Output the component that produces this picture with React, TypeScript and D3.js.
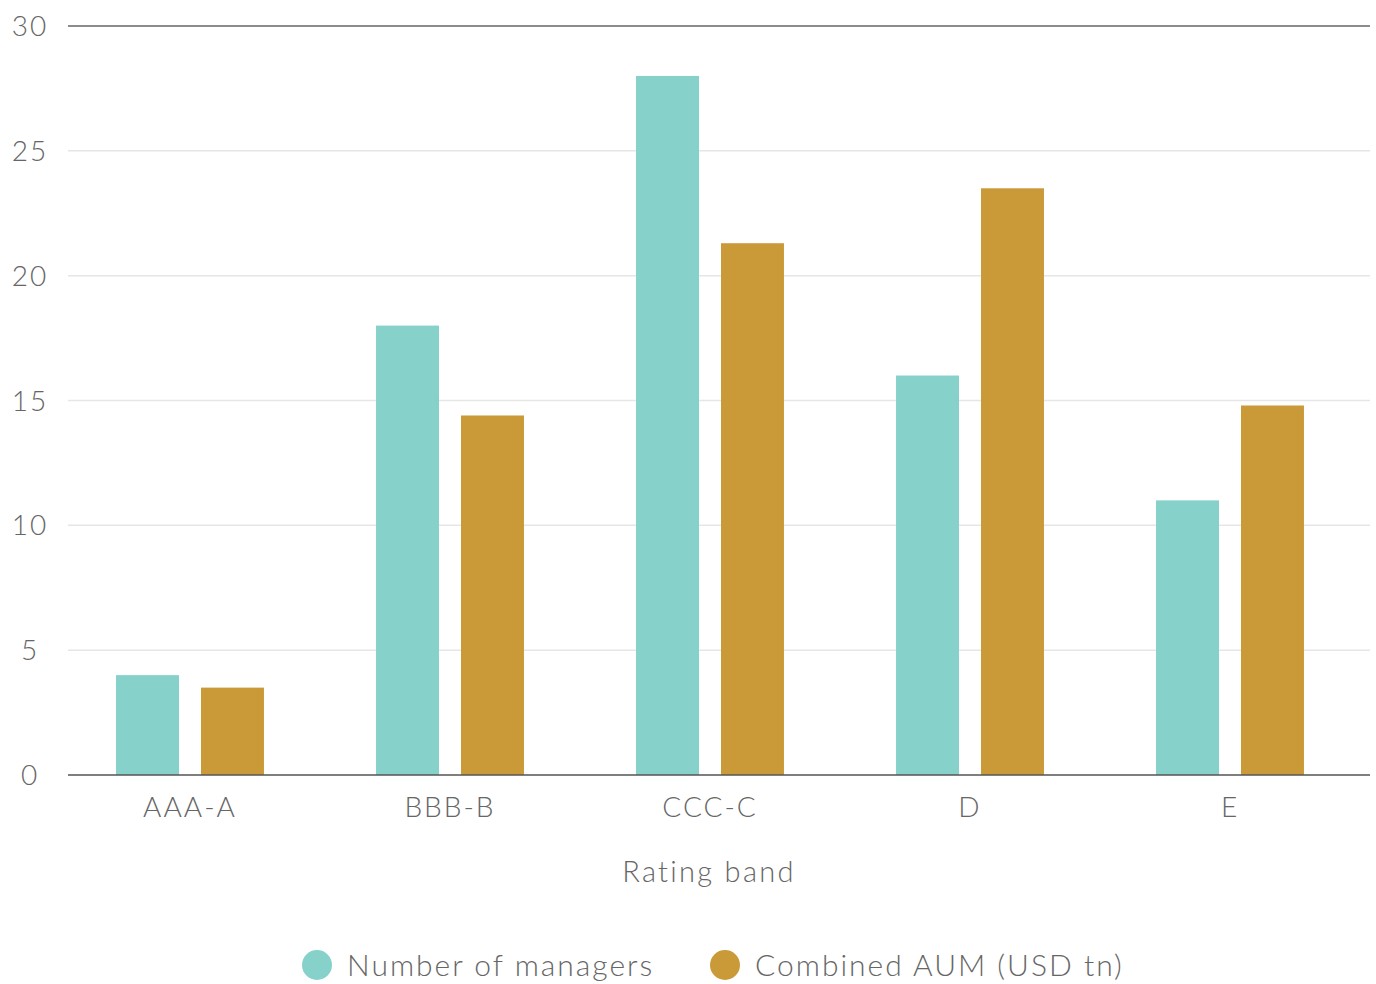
import { useEffect, useRef } from "react";
import * as d3 from "d3";

const categories = ["AAA-A", "BBB-B", "CCC-C", "D", "E"];
const managers = [4, 18, 28, 16, 11];
const aum = [3.5, 14.4, 21.3, 23.5, 14.8];
const yTicks = [0, 5, 10, 15, 20, 25, 30];
const seriesNames = ["Number of managers", "Combined AUM (USD tn)"];
const colors = ["#86d1ca", "#cb9a38"];

export default function App() {
  const ref = useRef<SVGSVGElement>(null);

  useEffect(() => {
    document.body.style.margin = "0";
    const svg = d3.select(ref.current);
    const width = 1376;
    const height = 984;
    const margin = { top: 26, right: 6, bottom: 209, left: 68 };
    const font = "Lato, 'Open Sans', sans-serif";
    const textColor = "#666";

    svg.selectAll("*").remove();
    svg.attr("viewBox", `0 0 ${width} ${height}`);

    const x0 = d3
      .scaleBand()
      .domain(categories)
      .range([60, 1360])
      .paddingInner(0.431)
      .paddingOuter(0.2155);

    const keys = ["managers", "aum"];
    const x1 = d3.scaleBand().domain(keys).range([0, x0.bandwidth()]).paddingInner(0.259);

    const y = d3
      .scaleLinear()
      .domain([0, 30])
      .range([height - margin.bottom, margin.top]);

    const rows = categories.map((c, i) => ({ cat: c, values: [managers[i], aum[i]] }));

    // grid
    svg
      .append("g")
      .selectAll("line")
      .data(yTicks.filter((t) => t > 0 && t < 30))
      .join("line")
      .attr("x1", margin.left)
      .attr("x2", width - margin.right)
      .attr("y1", (d) => y(d))
      .attr("y2", (d) => y(d))
      .attr("stroke", "#e6e6e6")
      .attr("stroke-width", 1.5);

    svg
      .append("line")
      .attr("x1", margin.left)
      .attr("x2", width - margin.right)
      .attr("y1", y(30))
      .attr("y2", y(30))
      .attr("stroke", "#666")
      .attr("stroke-width", 1.5);

    // bars
    svg
      .append("g")
      .selectAll("g")
      .data(rows)
      .join("g")
      .attr("transform", (d) => `translate(${x0(d.cat)},0)`)
      .selectAll("rect")
      .data((d) => d.values.map((v, i) => ({ key: keys[i], v, i })))
      .join("rect")
      .attr("x", (d) => x1(d.key))
      .attr("width", x1.bandwidth())
      .attr("y", (d) => y(d.v))
      .attr("height", (d) => y(0) - y(d.v))
      .attr("fill", (d) => colors[d.i]);

    svg
      .append("line")
      .attr("x1", margin.left)
      .attr("x2", width - margin.right)
      .attr("y1", y(0))
      .attr("y2", y(0))
      .attr("stroke", "#555")
      .attr("stroke-width", 1.5);

    // y tick labels
    svg
      .append("g")
      .selectAll("text")
      .data(yTicks)
      .join("text")
      .attr("x", 30)
      .attr("y", (d) => y(d))
      .attr("dy", "0.36em")
      .attr("text-anchor", "middle")
      .attr("fill", textColor)
      .style("font-family", font)
      .style("font-weight", 300)
      .style("font-size", "28px")
      .style("letter-spacing", "2px")
      .text((d) => d);

    // x labels
    svg
      .append("g")
      .selectAll("text")
      .data(categories)
      .join("text")
      .attr("x", (d) => x0(d) + x0.bandwidth() / 2)
      .attr("y", y(0) + 42)
      .attr("text-anchor", "middle")
      .attr("fill", textColor)
      .style("font-family", font)
      .style("font-weight", 300)
      .style("font-size", "28px")
      .style("letter-spacing", "2px")
      .text((d) => d);

    svg
      .append("text")
      .attr("x", 709)
      .attr("y", 882)
      .attr("text-anchor", "middle")
      .attr("fill", textColor)
      .style("font-family", font)
      .style("font-weight", 300)
      .style("font-size", "29px")
      .style("letter-spacing", "2.3px")
      .text("Rating band");

    // legend
    const legendX = [317, 725];
    const lg = svg
      .append("g")
      .selectAll("g")
      .data(seriesNames)
      .join("g")
      .attr("transform", (d, i) => `translate(${legendX[i]},965)`);
    lg.append("circle").attr("r", 15).attr("fill", (d, i) => colors[i]);
    lg.append("text")
      .attr("x", 30)
      .attr("dy", "0.36em")
      .attr("fill", textColor)
      .style("font-family", font)
      .style("font-weight", 300)
      .style("font-size", "30px")
      .style("letter-spacing", "2px")
      .text((d) => d);
  }, []);

  return <svg ref={ref} width={1376} height={984} style={{ display: "block" }} />;
}
